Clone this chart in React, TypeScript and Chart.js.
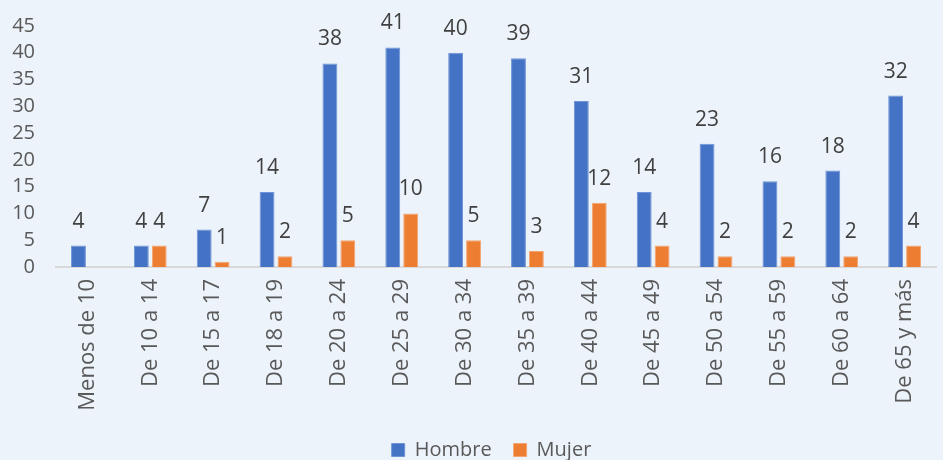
import React, { useEffect, useRef } from "react";
import { Chart, registerables } from "chart.js";

Chart.register(...registerables);

const categories = [
  "Menos de 10", "De 10 a 14", "De 15 a 17", "De 18 a 19", "De 20 a 24", "De 25 a 29",
  "De 30 a 34", "De 35 a 39", "De 40 a 44", "De 45 a 49", "De 50 a 54", "De 55 a 59",
  "De 60 a 64", "De 65 y más",
];
const hombre = [4, 4, 7, 14, 38, 41, 40, 39, 31, 14, 23, 16, 18, 32];
const mujer: (number | null)[] = [null, 4, 1, 2, 5, 10, 5, 3, 12, 4, 2, 2, 2, 4];
const yTicks = [0, 5, 10, 15, 20, 25, 30, 35, 40, 45];

const FONT = "'Open Sans', sans-serif";

const dataLabels = {
  id: "dataLabels",
  afterDatasetsDraw(chart: any) {
    const ctx = chart.ctx;
    ctx.save();
    ctx.font = `21px ${FONT}`;
    ctx.fillStyle = "#404040";
    ctx.textAlign = "center";
    ctx.textBaseline = "alphabetic";
    chart.data.datasets.forEach((ds: any, i: number) => {
      const meta = chart.getDatasetMeta(i);
      meta.data.forEach((el: any, j: number) => {
        const v = ds.data[j];
        if (v === null || v === undefined) return;
        ctx.fillText(String(v), el.x, el.y - 18);
      });
    });
    ctx.restore();
  },
};

const legendShift = {
  id: "legendShift",
  afterLayout(chart: any) {
    const lg = chart.legend;
    if (lg) {
      lg.left += 20;
      lg.right += 20;
    }
  },
};

export default function App() {
  const ref = useRef<HTMLCanvasElement>(null);
  useEffect(() => {
    document.body.style.margin = "0";
    document.body.style.background = "#EDF3FB";
    const chart = new Chart(ref.current!, {
      type: "bar",
      data: {
        labels: categories,
        datasets: [
          {
            label: "Hombre",
            data: hombre,
            backgroundColor: "#4472C4",
            borderColor: "#6E93D6",
            borderWidth: 1,
            barPercentage: 0.83,
            categoryPercentage: 0.57,
          },
          {
            label: "Mujer",
            data: mujer,
            backgroundColor: "#ED7D31",
            borderColor: "#F4A470",
            borderWidth: 1,
            barPercentage: 0.83,
            categoryPercentage: 0.57,
          },
        ],
      },
      options: {
        animation: false,
        responsive: false,
        maintainAspectRatio: false,
        layout: { padding: { top: 26, right: 0, left: 0, bottom: -10 } },
        plugins: {
          legend: {
            position: "bottom",
            labels: {
              boxWidth: 13,
              boxHeight: 13,
              padding: 22,
              color: "#595959",
              font: { family: FONT, size: 20 },
            },
          },
          tooltip: { enabled: false },
        },
        scales: {
          x: {
            grid: { display: false, drawTicks: false },
            border: { display: true, color: "#D9D9D9", width: 2 },
            ticks: {
              color: "#595959",
              font: { family: FONT, size: 22 },
              minRotation: 90,
              maxRotation: 90,
              padding: 12,
              autoSkip: false,
            },
            afterFit: (s: any) => {
              s.height = 151;
            },
          },
          y: {
            min: 0,
            max: 45,
            afterBuildTicks: (s: any) => {
              s.ticks = yTicks.map((v) => ({ value: v }));
            },
            grid: { display: false, drawTicks: false },
            border: { display: false },
            ticks: {
              color: "#595959",
              font: { family: FONT, size: 20 },
              padding: 21,
              autoSkip: false,
            },
            afterFit: (s: any) => {
              s.width = 56;
              s.paddingTop = 0;
              s.paddingBottom = 0;
            },
          },
        },
      },
      plugins: [dataLabels, legendShift],
    });
    return () => chart.destroy();
  }, []);
  return (
    <div style={{ width: 943, height: 460, background: "#EDF3FB", overflow: "hidden" }}>
      <canvas ref={ref} width={943} height={460} />
    </div>
  );
}
